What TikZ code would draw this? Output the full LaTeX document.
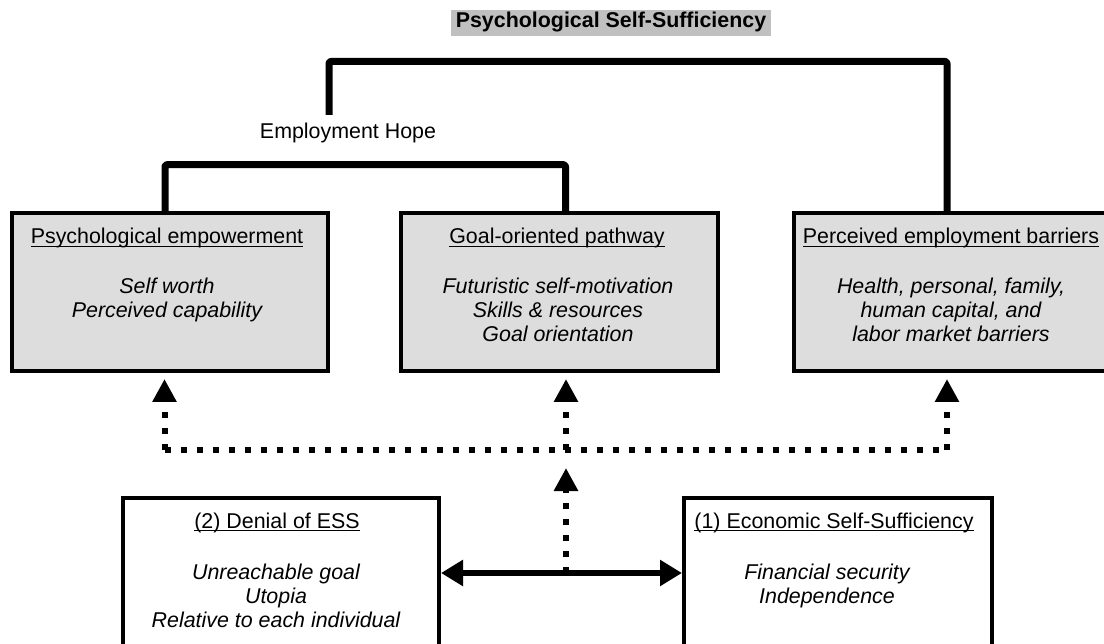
\documentclass[tikz,border=0pt]{standalone}
\usepackage{fontspec}
\setmainfont{Liberation Sans}
\usetikzlibrary{arrows.meta}
\definecolor{boxgray}{HTML}{DDDDDD}
\definecolor{hlgray}{HTML}{C0C0C0}
\newcommand\ulin[1]{\setbox0\hbox{#1}\rlap{\rule[-3.4pt]{\wd0}{1.7pt}}\box0}
\begin{document}
\begin{tikzpicture}[x=1pt,y=-1pt,
  font=\fontsize{21.4}{24}\selectfont,
  box/.style={draw, line width=4pt, fill=boxgray, minimum width=316pt, minimum height=158pt, inner sep=0pt},
  wbox/.style={draw, line width=4pt, fill=white, minimum width=316pt, minimum height=182pt, inner sep=0pt},
  ttl/.style={anchor=base, inner sep=0pt},
  body/.style={anchor=base, inner sep=0pt, align=center, font=\fontsize{21.4}{24}\selectfont\itshape},
  bracket/.style={line width=7pt, line join=round, rounded corners=2pt},
  dots/.style={line width=6pt, dash pattern=on 6pt off 10pt},
  uparrow/.style={-{Triangle[length=23pt,width=23pt]}},
  solidarr/.style={line width=6pt, {Triangle[length=22pt,width=25pt]}-{Triangle[length=22pt,width=25pt]}}
]
\clip (0,0) rectangle (1104,644);

% title
\node[fill=hlgray, inner xsep=5pt, inner ysep=0pt, text height=18pt, text depth=8pt, font=\fontsize{21.4}{24}\selectfont\bfseries] (title) at (611,23) {Psychological Self-Sufficiency};

% boxes
\node[box] (b1) at (170,292) {};
\node[box, minimum width=317pt] (b2) at (559.5,292) {};
\node[box] (b3) at (952,292) {};
\node[wbox] (b4) at (281,589) {};
\node[wbox, minimum width=308pt] (b5) at (838,589) {};

% texts (multi-line nodes: base = last line)
\node[ttl] (eh) at (348,139) {Employment Hope};

\node[ttl] (t1) at (167,244) {\ulin{Psychological empowerment}};
\node[body] (s1) at (167,318) {Self worth\\Perceived capability};

\node[ttl] (t2) at (557,244) {\ulin{Goal-oriented pathway}};
\node[body] (s2) at (558,342) {Futuristic self-motivation\\Skills \& resources\\Goal orientation};

\node[ttl] (t3) at (951,244) {\ulin{Perceived employment barriers}};
\node[body] (s3) at (951,342) {Health, personal, family,\\human capital, and\\labor market barriers};

\node[ttl] (t4) at (277,528) {\ulin{(2) Denial of ESS}};
\node[body] (s4) at (276,627) {Unreachable goal\\Utopia\\Relative to each individual};

\node[ttl] (t5) at (834,528) {\ulin{(1) Economic Self-Sufficiency}};
\node[body] (s5) at (827,603) {Financial security\\Independence};

% brackets
\coordinate (ehtop) at (329,115);
\coordinate (tb) at (947,61.5);
\draw[bracket] (ehtop) |- (tb) -- ([xshift=-5pt]b3.north);
\draw[bracket] ([xshift=-5pt]b1.north) -- ++(0,-46.3) -| ([xshift=6pt]b2.north);

% dotted connectors
\coordinate (dL) at (164.5,450);
\coordinate (dM) at (566,450);
\coordinate (dR) at (947,450);
\coordinate (mid) at (566,573);
\draw[dots] (dL) -- (dR);
\draw[dots, uparrow, shorten >=6pt] (dL) -- (dL |- b1.south);
\draw[dots, uparrow, shorten >=6pt] (dM) -- (dM |- b2.south);
\draw[dots, uparrow, shorten >=6pt] (dR) -- (dR |- b3.south);
\draw[dots, uparrow, shorten >=18pt] (mid) -- (dM);

% double arrow
\draw[solidarr] (b4.east |- mid) -- (b5.west |- mid);
\end{tikzpicture}
\end{document}
